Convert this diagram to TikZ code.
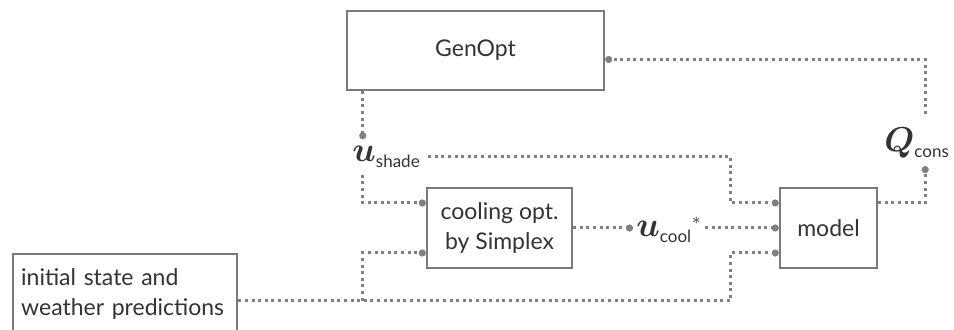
\documentclass[tikz,border=0pt]{standalone}
\usepackage{amsmath,amssymb,bm}
\usepackage{fontspec}
\setmainfont{Lato}
\usetikzlibrary{arrows.meta,positioning}
\newcommand{\subtxt}[1]{\mbox{\fontsize{8.5}{10}\selectfont #1}}
\definecolor{linegray}{HTML}{808080}
\definecolor{boxgray}{HTML}{7A7A7A}
\definecolor{txtgray}{HTML}{333333}

\begin{document}
\begin{tikzpicture}[x=0.5pt,y=-0.5pt,>={Circle[length=3.5pt,width=3.5pt]},
  blk/.style={draw=boxgray,line width=1.2pt,fill=white,text=txtgray,font=\fontsize{11.5}{15}\selectfont,align=center,inner sep=3pt},
  sig/.style={draw=linegray,line width=1.5pt,dash pattern=on 1.5pt off 1.8pt,->},
  var/.style={text=txtgray,font=\fontsize{16}{18}\selectfont,inner sep=3.5pt,anchor=base west}]
\useasboundingbox (0,0) rectangle (954,330);
% blocks
\node[blk,minimum width=128.5pt,minimum height=39.5pt] (genopt) at (475.5,50.5) {GenOpt};
\node[blk,minimum width=72.5pt,minimum height=40pt] (cool) at (499.5,228) {cooling opt.\\by Simplex};
\node[blk,minimum width=48.5pt,minimum height=40pt] (model) at (828.5,228) {model};
\node[blk,anchor=north west,text width=104pt,align=left,inner xsep=4pt,inner ysep=7pt] (init) at (12,253) {initial state and\\weather predictions};
% variables
\node[var] (ushade) at (345,162) {$\boldsymbol{u}_{\subtxt{shade}}$};
\node[var,inner xsep=1.5pt] (ucool) at (633,237) {${\boldsymbol{u}_{\subtxt{cool}}}^{\scriptscriptstyle *}$};
\node[var] (qcons) at (877,152) {$\boldsymbol{Q}_{\subtxt{cons}}$};
% helper points
\coordinate (ux) at ([xshift=8.5pt]genopt.south west);
\coordinate (mx) at ([xshift=-24pt]model.west);
\coordinate (iout) at ([yshift=-3.5pt]init.east);
\coordinate (qx) at ([xshift=23.5pt]model.east);
\coordinate (qtop) at ([yshift=3.5pt]qcons.north);
% signals
\draw[sig] (genopt.south -| ux) -- (ushade.north -| ux);
\draw[sig] (ushade.south -| ux) |- ([yshift=12.5pt]cool.west);
\draw[sig] (ushade.east) -| ([yshift=12.5pt]mx) -- ([yshift=12.5pt]model.west);
\draw[sig] (iout) -| ([yshift=-12.5pt]mx) -- ([yshift=-12.5pt]model.west);
\draw[sig] (iout -| ux) |- ([yshift=-12.5pt]cool.west);
\draw[sig] (cool.east) -- (cool.east -| ucool.west);
\draw[sig,-{Circle[open,length=3.5pt,width=3.5pt,fill=white]}] (ucool.east |- model.west) -- (model.west);
\draw[sig] ([yshift=12.5pt]model.east) -| (qx |- qcons.south);
\draw[sig] (qx |- qtop) |- ([yshift=-4.5pt]genopt.east);
\end{tikzpicture}
\end{document}
